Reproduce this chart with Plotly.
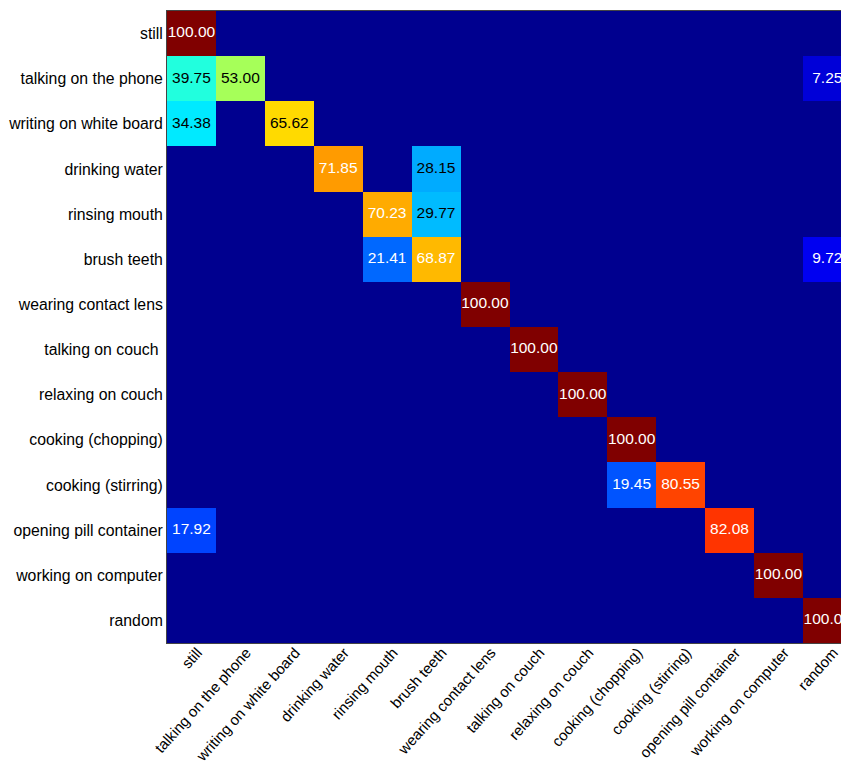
import plotly.graph_objects as go

labels_y = ["still", "talking on the phone", "writing on white board", "drinking water",
            "rinsing mouth", "brush teeth", "wearing contact lens", "talking on couch ",
            "relaxing on couch", "cooking (chopping)", "cooking (stirring)",
            "opening pill container", "working on computer", "random"]
labels_x = ["still", "talking on the phone", "writing on white board", "drinking water",
            "rinsing mouth", "brush teeth", "wearing contact lens", "talking on couch",
            "relaxing on couch", "cooking (chopping)", "cooking (stirring)",
            "opening pill container", "working on computer", "random"]

row_still = [100.00, 0, 0, 0, 0, 0, 0, 0, 0, 0, 0, 0, 0, 0]
row_phone = [39.75, 53.00, 0, 0, 0, 0, 0, 0, 0, 0, 0, 0, 0, 7.25]
row_board = [34.38, 0, 65.62, 0, 0, 0, 0, 0, 0, 0, 0, 0, 0, 0]
row_drink = [0, 0, 0, 71.85, 0, 28.15, 0, 0, 0, 0, 0, 0, 0, 0]
row_rinse = [0, 0, 0, 0, 70.23, 29.77, 0, 0, 0, 0, 0, 0, 0, 0]
row_brush = [0, 0, 0, 0, 21.41, 68.87, 0, 0, 0, 0, 0, 0, 0, 9.72]
row_lens = [0, 0, 0, 0, 0, 0, 100.00, 0, 0, 0, 0, 0, 0, 0]
row_talkc = [0, 0, 0, 0, 0, 0, 0, 100.00, 0, 0, 0, 0, 0, 0]
row_relax = [0, 0, 0, 0, 0, 0, 0, 0, 100.00, 0, 0, 0, 0, 0]
row_chop = [0, 0, 0, 0, 0, 0, 0, 0, 0, 100.00, 0, 0, 0, 0]
row_stir = [0, 0, 0, 0, 0, 0, 0, 0, 0, 19.45, 80.55, 0, 0, 0]
row_pill = [17.92, 0, 0, 0, 0, 0, 0, 0, 0, 0, 0, 82.08, 0, 0]
row_comp = [0, 0, 0, 0, 0, 0, 0, 0, 0, 0, 0, 0, 100.00, 0]
row_random = [0, 0, 0, 0, 0, 0, 0, 0, 0, 0, 0, 0, 0, 100.00]

z = [row_still, row_phone, row_board, row_drink, row_rinse, row_brush, row_lens,
     row_talkc, row_relax, row_chop, row_stir, row_pill, row_comp, row_random]

jet = [[0.0, "rgb(0,0,143)"], [0.111, "rgb(0,0,255)"], [0.365, "rgb(0,255,255)"],
       [0.619, "rgb(255,255,0)"], [0.873, "rgb(255,0,0)"], [1.0, "rgb(128,0,0)"]]

xs = list(range(len(labels_x)))
ys = list(range(len(labels_y)))

fig = go.Figure()
fig.add_trace(go.Heatmap(z=z, x=xs, y=ys, colorscale=jet, zmin=0, zmax=100,
                         showscale=False, hoverinfo="skip"))

tx, ty, tt, tc = [], [], [], []
for i, row in enumerate(z):
    for j, v in enumerate(row):
        if v > 0:
            tx.append(j)
            ty.append(i)
            tt.append(f"{v:.2f}")
            tc.append("black" if 25 <= v <= 66 else "white")

fig.add_trace(go.Scatter(x=tx, y=ty, text=tt, mode="text",
                         textfont=dict(color=tc, size=15.5, family="Liberation Sans, Arial"),
                         textposition="middle center", hoverinfo="skip", showlegend=False,
                         cliponaxis=True))

fig.update_layout(
    width=841, height=769,
    margin=dict(l=167, r=0, t=11, b=126),
    paper_bgcolor="white", plot_bgcolor="rgb(0,0,143)",
    font=dict(family="Liberation Sans, Arial", size=15, color="black"),
    showlegend=False,
)
fig.update_xaxes(tickmode="array", tickvals=xs, ticktext=labels_x, tickangle=-48,
                 range=[-0.5, 13.28], showgrid=False, zeroline=False,
                 showline=True, linecolor="#444", linewidth=1, mirror=True,
                 ticks="", tickfont=dict(size=15), ticklabelshift=6,
                 ticklabelstandoff=-6,
                 ticklabeloverflow="allow", automargin=False)
fig.update_yaxes(tickmode="array", tickvals=ys, ticktext=labels_y,
                 range=[13.5, -0.5], showgrid=False, zeroline=False,
                 showline=True, linecolor="#444", linewidth=1, mirror=True,
                 ticks="", tickfont=dict(size=15.8), automargin=False)

fig.write_html("out.html")
